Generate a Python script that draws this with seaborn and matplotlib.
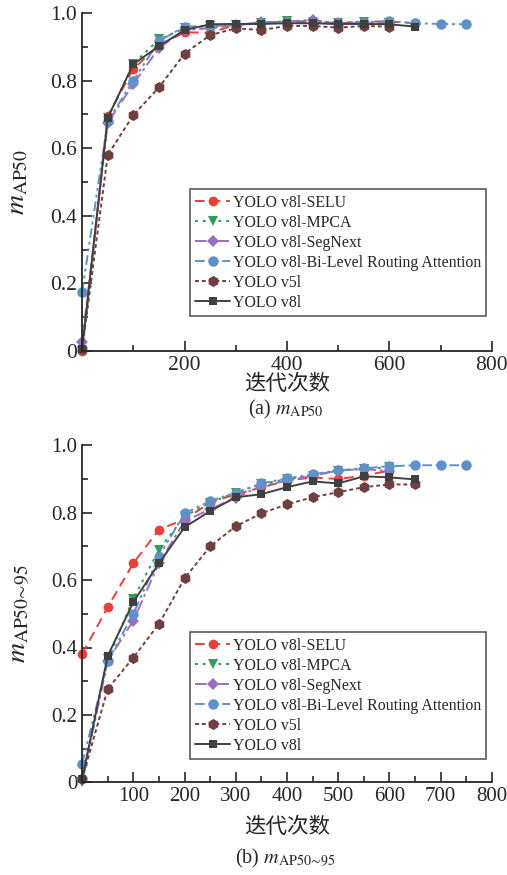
import numpy as np
import pandas as pd
import matplotlib
matplotlib.use('Agg')
import matplotlib.pyplot as plt
import seaborn as sns

sns.set_style('ticks')
plt.rcParams['font.family'] = ['Liberation Serif', 'Noto Sans CJK SC']
plt.rcParams['mathtext.fontset'] = 'stix'
plt.rcParams['axes.unicode_minus'] = False

# iterations
x_short = [0, 50, 100, 150, 200, 250, 300, 350, 400, 450, 500, 550, 600]
x_long = x_short + [650]
x_bi = x_short + [650, 700, 750]

names = ['YOLO v8l-SELU', 'YOLO v8l-MPCA', 'YOLO v8l-SegNext',
         'YOLO v8l-Bi-Level Routing Attention', 'YOLO v5l', 'YOLO v8l']

# (a) mAP50
selu_a = [0.00, 0.695, 0.835, 0.905, 0.943, 0.942, 0.965, 0.970, 0.975, 0.975, 0.970, 0.975, 0.975, 0.970]
mpca_a = [0.00, 0.690, 0.850, 0.922, 0.955, 0.962, 0.965, 0.970, 0.977, 0.975, 0.972, 0.975, 0.972]
segnext_a = [0.025, 0.675, 0.790, 0.897, 0.950, 0.955, 0.965, 0.973, 0.975, 0.980, 0.970, 0.972, 0.970]
bi_a = [0.175, 0.680, 0.800, 0.917, 0.960, 0.962, 0.965, 0.970, 0.972, 0.972, 0.968, 0.972, 0.977, 0.970, 0.968, 0.967]
v5l_a = [0.005, 0.580, 0.698, 0.780, 0.880, 0.935, 0.955, 0.950, 0.962, 0.962, 0.957, 0.962, 0.960]
v8l_a = [0.005, 0.690, 0.849, 0.902, 0.950, 0.967, 0.968, 0.968, 0.970, 0.970, 0.968, 0.968, 0.967, 0.960]

# (b) mAP50~95
selu_b = [0.38, 0.52, 0.65, 0.75, 0.78, 0.83, 0.855, 0.875, 0.895, 0.905, 0.90, 0.91, 0.925]
mpca_b = [0.0, 0.365, 0.545, 0.69, 0.79, 0.83, 0.86, 0.885, 0.90, 0.91, 0.925, 0.93, 0.935]
segnext_b = [0.01, 0.36, 0.48, 0.65, 0.775, 0.81, 0.845, 0.88, 0.895, 0.91, 0.925, 0.93, 0.923]
bi_b = [0.055, 0.36, 0.50, 0.67, 0.798, 0.835, 0.86, 0.887, 0.902, 0.914, 0.926, 0.932, 0.938, 0.941, 0.941, 0.941]
v5l_b = [0.01, 0.277, 0.37, 0.47, 0.605, 0.70, 0.76, 0.798, 0.825, 0.846, 0.861, 0.876, 0.884, 0.884]
v8l_b = [0.01, 0.375, 0.535, 0.65, 0.757, 0.805, 0.846, 0.855, 0.876, 0.893, 0.887, 0.908, 0.905, 0.899]

styles = [
    dict(color='#e8403a', linestyle=(0, (5, 3)), marker='o', markersize=7),
    dict(color='#2f9e58', linestyle=(0, (1.5, 2.5)), marker='v', markersize=7),
    dict(color='#9a6fc0', linestyle=(0, (6, 2, 1.5, 2)), marker='D', markersize=6),
    dict(color='#5f90c8', linestyle=(0, (5, 2, 1.5, 2, 1.5, 2)), marker='o', markersize=7.5),
    dict(color='#704040', linestyle=(0, (2, 1.5)), marker='h', markersize=8),
    dict(color='#404040', linestyle='-', marker='s', markersize=6),
]

fig = plt.figure(figsize=(5.07, 8.75), dpi=100)
ax1 = fig.add_axes([0.162, 0.599, 0.808, 0.386])
ax2 = fig.add_axes([0.162, 0.106, 0.808, 0.385])

series_a = [(x_long, selu_a), (x_short, mpca_a), (x_short, segnext_a),
            (x_bi, bi_a), (x_short, v5l_a), (x_long, v8l_a)]
series_b = [(x_short, selu_b), (x_short, mpca_b), (x_short, segnext_b),
            (x_bi, bi_b), (x_long, v5l_b), (x_long, v8l_b)]

for ax, series in [(ax1, series_a), (ax2, series_b)]:
    for name, (xs, ys), st in zip(names, series, styles):
        sns.lineplot(x=xs, y=ys, ax=ax, label=name, linewidth=1.4,
                     markeredgewidth=0, clip_on=False, sort=False, **st)
    ax.set_xlim(0, 800)
    ax.set_ylim(0, 1.0)
    ax.spines['top'].set_visible(False)
    ax.spines['right'].set_visible(False)
    for s in ['left', 'bottom']:
        ax.spines[s].set_linewidth(1.3)
    ax.set_yticks([0, 0.2, 0.4, 0.6, 0.8, 1.0])
    ax.set_yticklabels(['0', '0.2', '0.4', '0.6', '0.8', '1.0'])
    ax.set_yticks([0.1, 0.3, 0.5, 0.7, 0.9], minor=True)
    ax.tick_params(which='both', direction='in', width=1.2)
    ax.tick_params(which='major', length=7, labelsize=15.5)
    ax.tick_params(which='minor', length=4)
    leg = ax.legend(loc='upper left', fontsize=11.4, frameon=True, fancybox=False,
                    edgecolor='#333333', handlelength=2.2, handletextpad=0.15,
                    labelspacing=0.25, borderpad=0.35, borderaxespad=0)
    leg.get_frame().set_linewidth(1.2)

ax1.legend_.set_bbox_to_anchor((0.263, 0.478), transform=ax1.transAxes)
ax2.legend_.set_bbox_to_anchor((0.263, 0.445), transform=ax2.transAxes)

ax1.set_xticks([200, 400, 600, 800])
ax1.set_xticks([100, 300, 500, 700], minor=True)
ax2.set_xticks([100, 200, 300, 400, 500, 600, 700, 800])
ax2.set_xticks(np.arange(50, 800, 100), minor=True)
ax2.tick_params(which='major', labelsize=15)

ax1.set_xlabel('迭代次数', fontsize=15.5, labelpad=0)
ax2.set_xlabel('迭代次数', fontsize=15.5, labelpad=8)
ax1.set_ylabel(r'$m_{\mathrm{AP50}}$', fontsize=20, labelpad=14)
ax2.set_ylabel(r'$m_{\mathrm{AP50\!\sim\!95}}$', fontsize=20, labelpad=14)

fig.text(0.563, 1 - 409 / 875, r'(a) $m_{\mathrm{AP50}}$', ha='center', va='center', fontsize=14.5)
fig.text(0.563, 1 - 858 / 875, r'(b) $m_{\mathrm{AP50\!\sim\!95}}$', ha='center', va='center', fontsize=14.5)

fig.savefig('out.png', dpi=100)
